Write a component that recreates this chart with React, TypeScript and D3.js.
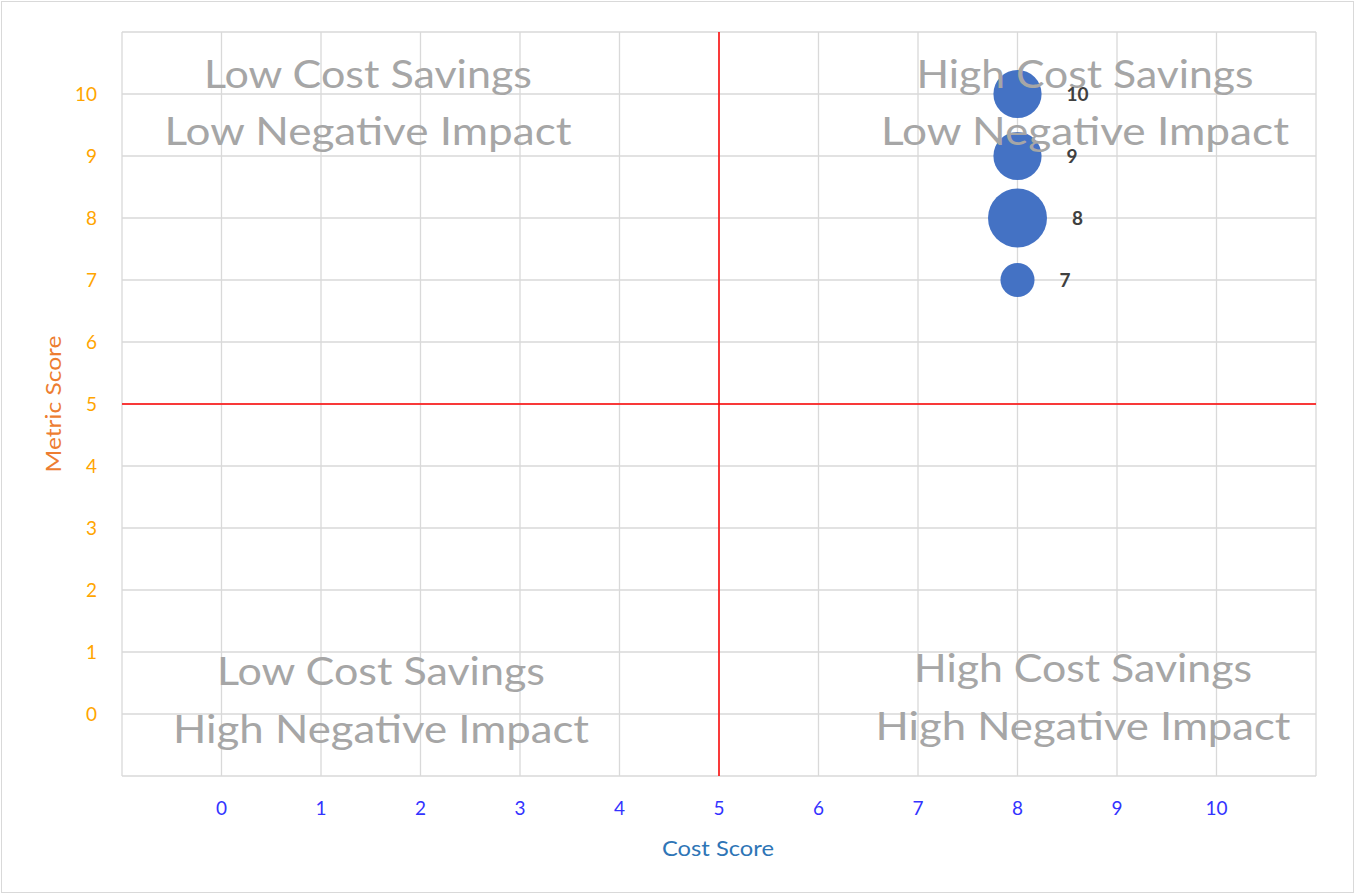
import React from "react";
import * as d3 from "d3";

// Bubble series: cost score (x), metric score (y), bubble size
const costScores = [8, 8, 8, 8];
const metricScores = [10, 9, 8, 7];
const bubbleSizes = [2, 2, 3, 1];
const bubbleLabels = ["10", "9", "8", "7"];

// Axis ticks
const xTicks = [0, 1, 2, 3, 4, 5, 6, 7, 8, 9, 10];
const yTicks = [0, 1, 2, 3, 4, 5, 6, 7, 8, 9, 10];

// Quadrant captions (two lines each)
const topLeftLines = ["Low Cost Savings", "Low Negative Impact"];
const topRightLines = ["High Cost Savings", "Low Negative Impact"];
const bottomLeftLines = ["Low Cost Savings", "High Negative Impact"];
const bottomRightLines = ["High Cost Savings", "High Negative Impact"];

// Divider values
const dividerX = 5;
const dividerY = 5;

const W = 1357;
const H = 896;
const plot = { left: 122, right: 1316, top: 32, bottom: 776 };

export default function App() {
  const x = d3.scaleLinear().domain([-1, 11]).range([plot.left, plot.right]);
  const y = d3.scaleLinear().domain([-1, 11]).range([plot.bottom, plot.top]);
  const r = d3.scaleSqrt().domain([0, 3]).range([0, 29.5]);

  const gridX = d3.range(-1, 12);
  const gridY = d3.range(-1, 12);

  const font = "Lato, 'Open Sans', sans-serif";

  const caption = (
    lines: string[],
    cx: number,
    baselines: number[],
    widths: number[],
    key: string
  ) => (
    <g key={key}>
      {lines.map((t, i) => (
        <text
          key={i}
          x={cx}
          y={baselines[i]}
          textAnchor="middle"
          fontFamily={font}
          fontSize={39}
          fill="#a6a6a6"
          textLength={widths[i]}
          lengthAdjust="spacingAndGlyphs"
        >
          {t}
        </text>
      ))}
    </g>
  );

  return (
    <svg
      width={W}
      height={H}
      style={{ position: "absolute", left: 0, top: 0, background: "#fff" }}
    >
      <rect x={1.5} y={1.5} width={1352} height={891} fill="#fff" stroke="#d9d9d9" />

      {/* gridlines */}
      {gridX.map((v) => (
        <line
          key={"gx" + v}
          x1={x(v)}
          x2={x(v)}
          y1={plot.top}
          y2={plot.bottom}
          stroke="#d9d9d9"
          strokeWidth={1.3}
        />
      ))}
      {gridY.map((v) => (
        <line
          key={"gy" + v}
          x1={plot.left}
          x2={plot.right}
          y1={y(v)}
          y2={y(v)}
          stroke="#d9d9d9"
          strokeWidth={1.3}
        />
      ))}

      {/* quadrant dividers */}
      <line
        x1={x(dividerX)}
        x2={x(dividerX)}
        y1={plot.top}
        y2={plot.bottom}
        stroke="#ff0000"
        strokeWidth={1.5}
      />
      <line
        x1={plot.left}
        x2={plot.right}
        y1={y(dividerY)}
        y2={y(dividerY)}
        stroke="#ff0000"
        strokeWidth={1.5}
      />

      {/* bubbles */}
      {costScores.map((c, i) => (
        <circle
          key={"b" + i}
          cx={x(c)}
          cy={y(metricScores[i])}
          r={r(bubbleSizes[i])}
          fill="#4472c4"
        />
      ))}

      {/* quadrant captions sit above the bubbles */}
      {caption(topLeftLines, 368, [88, 145], [328, 407], "tl")}
      {caption(topRightLines, 1085, [88, 145], [337, 408], "tr")}
      {caption(bottomLeftLines, 381, [685, 743], [328, 416], "bl")}
      {caption(bottomRightLines, 1083, [682, 740], [338, 415], "br")}

      {costScores.map((c, i) => (
        <text
          key={"l" + i}
          x={x(c) + r(bubbleSizes[i]) + 25}
          y={y(metricScores[i])}
          dy="0.35em"
          fontFamily={font}
          fontSize={19}
          fontWeight={700}
          fill="#404040"
        >
          {bubbleLabels[i]}
        </text>
      ))}

      {/* y tick labels */}
      {yTicks.map((v) => (
        <text
          key={"yt" + v}
          x={97}
          y={y(v)}
          dy="0.35em"
          textAnchor="end"
          fontFamily={font}
          fontSize={19}
          fill="#ffa500"
        >
          {v}
        </text>
      ))}

      {/* x tick labels */}
      {xTicks.map((v) => (
        <text
          key={"xt" + v}
          x={x(v)}
          y={808}
          dy="0.35em"
          textAnchor="middle"
          fontFamily={font}
          fontSize={19}
          fill="#3333ff"
        >
          {v}
        </text>
      ))}

      {/* axis titles */}
      <text
        x={718}
        y={848}
        dy="0.35em"
        textAnchor="middle"
        fontFamily={font}
        fontSize={22}
        fill="#2e75b6"
        textLength={112}
        lengthAdjust="spacingAndGlyphs"
      >
        Cost Score
      </text>
      <text
        transform={`translate(53, ${y(5)}) rotate(-90)`}
        textAnchor="middle"
        dy="0.35em"
        fontFamily={font}
        fontSize={22}
        fill="#ed7d31"
        textLength={137}
        lengthAdjust="spacingAndGlyphs"
      >
        Metric Score
      </text>
    </svg>
  );
}
